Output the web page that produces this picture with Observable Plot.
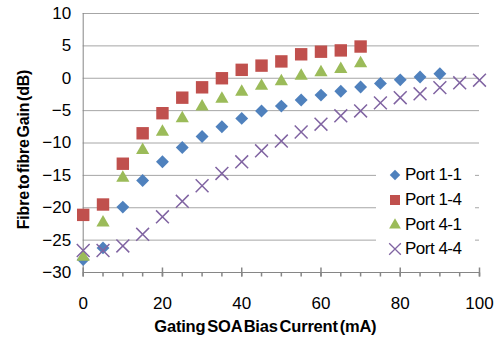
<!DOCTYPE html>
<html>
<head>
<meta charset="utf-8">
<script src="https://cdn.jsdelivr.net/npm/d3@7"></script>
<script src="https://cdn.jsdelivr.net/npm/@observablehq/plot@0.6"></script>
<style>
  body { margin: 0; background: #fff; font-family: "Liberation Sans", Arial, sans-serif; }
  #wrap { position: relative; width: 497px; height: 338px; }
  #legend { position: absolute; left: 376px; top: 160px; width: 99px; height: 102px; background: #fff; }
  .row { position: absolute; left: 0; height: 22px; display: flex; align-items: center; font-size: 17px; color: #000; letter-spacing: -0.5px; }
  .row svg { margin-left: 12px; margin-right: 3px; }
</style>
</head>
<body>
<div id="wrap"><div id="legend"></div></div>
<script>
// ---- data ----
const seriesNames = ["Port 1-1", "Port 1-4", "Port 4-1", "Port 4-4"];
const seriesColors = ["#4F81BD", "#C0504D", "#9BBB59", "#8064A2"];
const current11 = [0,5,10,15,20,25,30,35,40,45,50,55,60,65,70,75,80,85,90];
const port11 = [-28.0,-26.2,-19.9,-15.8,-12.9,-10.7,-9.0,-7.5,-6.2,-5.05,-4.3,-3.35,-2.6,-2.0,-1.35,-0.8,-0.25,0.2,0.7];
const current14 = [0,5,10,15,20,25,30,35,40,45,50,55,60,65,70];
const port14 = [-21.1,-19.5,-13.2,-8.5,-5.4,-3.0,-1.4,0.0,1.3,1.95,2.6,3.7,4.1,4.3,4.9];
const current41 = [0,5,10,15,20,25,30,35,40,45,50,55,60,65,70];
const port41 = [-27.6,-22.3,-15.4,-11.1,-8.3,-6.2,-4.4,-3.2,-2.1,-1.2,-0.5,0.35,0.9,1.4,2.3];
const current44 = [0,5,10,15,20,25,30,35,40,45,50,55,60,65,70,75,80,85,90,95,100];
const port44 = [-26.6,-26.6,-25.9,-24.1,-21.4,-19.0,-16.6,-14.7,-12.9,-11.2,-9.7,-8.3,-7.1,-5.8,-5.05,-3.8,-3.0,-2.4,-1.45,-0.7,-0.3];
const xTicks = [0,20,40,60,80,100];
const xMinorTicks = [0,5,10,15,20,25,30,35,40,45,50,55,60,65,70,75,80,85,90,95,100];
const yTicks = [-30,-25,-20,-15,-10,-5,0,5,10];
const xTitle = "Gating SOA Bias Current (mA)";
const yTitle = "Fibre to fibre Gain (dB)";

const mk = (xs, ys) => xs.map((x, i) => ({x, y: ys[i]}));
const d11 = mk(current11, port11), d14 = mk(current14, port14), d41 = mk(current41, port41), d44 = mk(current44, port44);

const minorTick = { draw(c) { c.moveTo(0, 0); c.lineTo(0, 4); } };
const majorTick = { draw(c) { c.moveTo(0, -5); c.lineTo(0, 4); } };
const axisGray = "#868686";
const yMin = yTicks[0];

const chart = Plot.plot({
  width: 497, height: 338,
  marginLeft: 82.7, marginRight: 18, marginTop: 13, marginBottom: 66,
  x: {domain: [0, 100]},
  y: {domain: [-30, 10]},
  style: {fontFamily: "'Liberation Sans', Arial, sans-serif", fontSize: "17px", color: "#000", background: "transparent", overflow: "visible"},
  marks: [
    Plot.gridY(yTicks, {stroke: "#a6a6a6", strokeOpacity: 1}),
    Plot.axisY(yTicks, {tickSize: 0, tickPadding: 12, label: null, fontSize: 17, letterSpacing: -0.5}),
    Plot.axisX(xTicks, {tickSize: 0, tickPadding: 24, label: null, fontSize: 17}),
    Plot.ruleX([0], {stroke: axisGray}),
    Plot.ruleY([yMin], {stroke: axisGray}),
    Plot.dot(xMinorTicks, {x: d => d, y: () => yMin, symbol: minorTick, r: 4, stroke: axisGray, fill: "none"}),
    Plot.dot(xTicks, {x: d => d, y: () => yMin, symbol: majorTick, r: 4, stroke: axisGray, fill: "none"}),
    Plot.dot(d11, {x: "x", y: "y", symbol: "diamond2", r: 5.8, fill: seriesColors[0]}),
    Plot.dot(d14, {x: "x", y: "y", symbol: "square", r: 7.0, fill: seriesColors[1]}),
    Plot.dot(d41, {x: "x", y: "y", symbol: "triangle", r: 4.9, fill: seriesColors[2]}),
    Plot.dot(d44, {x: "x", y: "y", symbol: "times", r: 5.9, stroke: seriesColors[3], strokeWidth: 1.5}),
    Plot.text([yTitle], {frameAnchor: "left", textAnchor: "middle", lineAnchor: "middle", rotate: -90, dx: -59, dy: 6.5, fontWeight: "bold", fontSize: 16}),
    Plot.text([xTitle], {frameAnchor: "bottom", textAnchor: "middle", lineAnchor: "middle", dx: -16, dy: 54, fontWeight: "bold", fontSize: 16.5})
  ]
});
chart.querySelectorAll("text").forEach(t => {
  if (t.textContent === xTitle || t.textContent === yTitle) { t.setAttribute("word-spacing", "-2.5"); t.setAttribute("letter-spacing", "-0.2"); }
});
const wrap = document.getElementById("wrap");
wrap.insertBefore(chart, wrap.firstChild);

// legend
const legend = document.getElementById("legend");
const legSyms = [d3.symbolDiamond2, d3.symbolSquare, d3.symbolTriangle, d3.symbolTimes];
const legSizes = [70, 100, 60, 90];
seriesNames.forEach((name, i) => {
  const row = document.createElement("div");
  row.className = "row";
  row.style.top = (4 + i * 24.8) + "px";
  const s = d3.create("svg").attr("width", 14).attr("height", 14);
  const p = s.append("path").attr("transform", "translate(7,7)").attr("d", d3.symbol(legSyms[i], legSizes[i])());
  if (i === 3) p.attr("fill", "none").attr("stroke", seriesColors[i]).attr("stroke-width", 1.3);
  else p.attr("fill", seriesColors[i]);
  row.appendChild(s.node());
  const span = document.createElement("span");
  span.textContent = name;
  row.appendChild(span);
  legend.appendChild(row);
});
</script>
</body>
</html>
